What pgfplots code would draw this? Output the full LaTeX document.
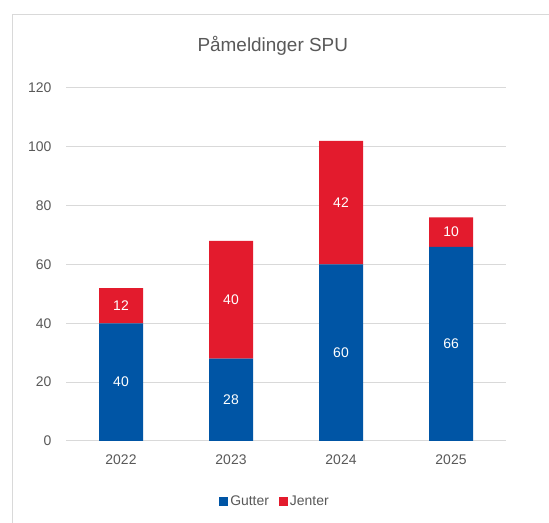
\documentclass[border=0pt]{standalone}
\usepackage{fontspec}
\setmainfont{Liberation Sans}
\usepackage{pgfplots}
\usepackage{pgfplotstable}
\pgfplotsset{compat=1.18}
\definecolor{gblue}{RGB}{0,85,165}
\definecolor{jred}{RGB}{227,27,45}
\definecolor{txt}{RGB}{89,89,89}
\definecolor{grd}{RGB}{217,217,217}
\pgfplotstableread{
x g j
0 40 12
1 28 40
2 60 42
3 66 10
}\data
\begin{document}
\begin{tikzpicture}[x=1bp,y=1bp]
\path[use as bounding box] (0,0) rectangle (549,523);
\clip (0,0) rectangle (549,523);
\fill[white] (0,0) rectangle (549,523);
\draw[grd, line width=1bp] (12,508) -- (600,508);
\draw[grd, line width=1bp] (12,508) -- (12,-10);
\begin{axis}[
  at={(66bp,82bp)}, anchor=south west,
  scale only axis, width=440bp, height=353bp,
  ybar stacked, bar width=44bp,
  xmin=-0.5, xmax=3.5, ymin=0, ymax=120,
  ytick={0,20,...,120},
  xtick={0,1,2,3}, xticklabels={2022,2023,2024,2025},
  ymajorgrids, grid style={grd, line width=1bp},
  axis line style={draw=none},
  major tick length=0pt,
  /pgf/number format/assume math mode=true,
  tick label style={font=\fontsize{14}{16}\selectfont, text=txt},
  yticklabel style={xshift=-11bp},
  xticklabel style={yshift=-10bp},
  title={Påmeldinger SPU},
  title style={at={(0.47,1.102)}, anchor=center, font=\fontsize{19}{22}\selectfont, text=txt},
  legend style={at={(0.475,-0.170)}, anchor=center, draw=none, legend columns=-1,
    font=\fontsize{14}{16}\selectfont, text=txt,
    /tikz/every even column/.append style={column sep=8bp}},
  legend image code/.code={\fill[#1] (0bp,-4.5bp) rectangle (9bp,4.5bp);},
  nodes near coords,
  point meta=explicit,
  every node near coord/.append style={font=\fontsize{14}{16}\selectfont, text=white, anchor=center},
]
\addplot+[fill=gblue, draw=none]
  table[x=x, y=g, meta=g] {\data};
\addlegendentry{Gutter}
\addplot+[fill=jred, draw=none]
  table[x=x, y=j, meta=j] {\data};
\addlegendentry{Jenter}
\end{axis}
\end{tikzpicture}
\end{document}
